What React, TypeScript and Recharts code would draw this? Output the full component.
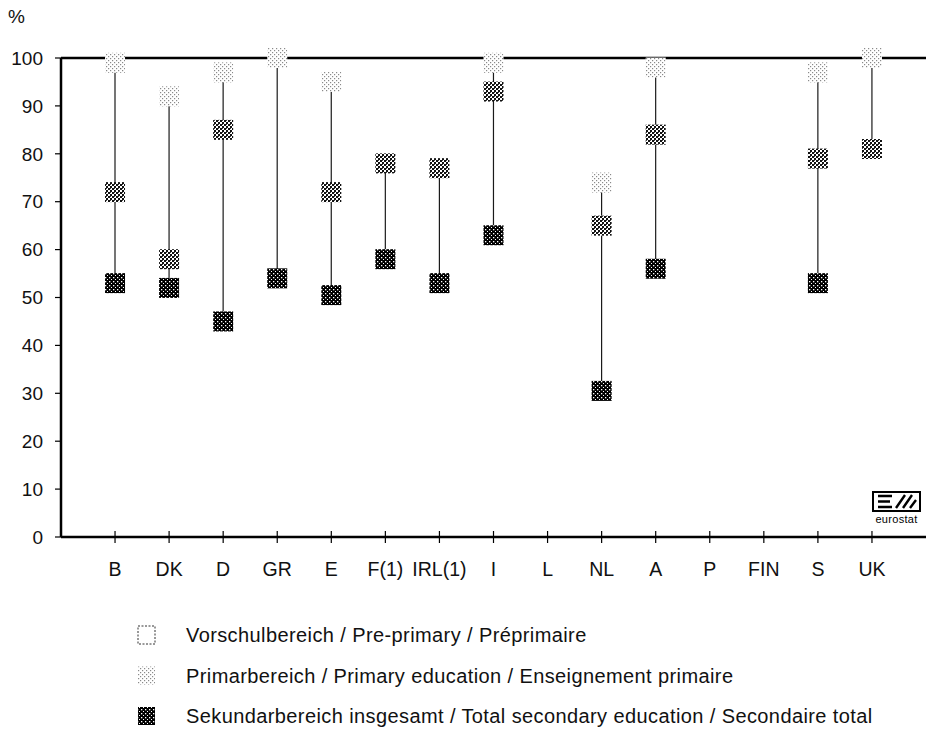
import React from 'react';
import { ComposedChart, Line, Bar, XAxis, YAxis, CartesianGrid } from 'recharts';

const countries = ['B', 'DK', 'D', 'GR', 'E', 'F(1)', 'IRL(1)', 'I', 'L', 'NL', 'A', 'P', 'FIN', 'S', 'UK'];
// top marker (light), middle marker (medium), bottom marker (dark)
const prePrimary = [99, 92, 97, 100, 95, null, null, 99, null, 74, 98, null, null, 97, 100];
const primary = [72, 58, 85, null, 72, 78, 77, 93, null, 65, 84, null, null, 79, 81];
const secondary = [53, 52, 45, 54, 50.5, 58, 53, 63, null, 30.5, 56, null, null, 53, null];
const yTicks = [0, 10, 20, 30, 40, 50, 60, 70, 80, 90, 100];

const legendItems = [
  'Vorschulbereich / Pre-primary / Préprimaire',
  'Primarbereich / Primary education / Enseignement primaire',
  'Sekundarbereich insgesamt / Total secondary education / Secondaire total',
];

const FONT = '"Liberation Sans", Arial, Helvetica, sans-serif';

const data = countries.map((c, i) => {
  const vals = [prePrimary[i], primary[i], secondary[i]].filter((v) => v != null) as number[];
  return {
    country: c,
    pre: prePrimary[i],
    pri: primary[i],
    sec: secondary[i],
    range: vals.length > 1 ? [Math.min(...vals), Math.max(...vals)] : null,
  };
});

// square marker filled with a halftone pattern
const squareDot = (pattern: string) => (props: any) => {
  const { cx, cy, index, value } = props;
  if (value == null || cy == null || isNaN(cy)) return <g key={`e-${pattern}-${index}`} />;
  return (
    <rect key={`${pattern}-${index}`} x={cx - 10} y={cy - 10} width={20} height={20} fill={`url(#${pattern})`} />
  );
};

const StemShape = (props: any) => {
  const { x, y, width, height } = props;
  if (height == null || isNaN(y)) return null;
  const cx = x + width / 2;
  return <line x1={cx} x2={cx} y1={y} y2={y + height} stroke="#1a1a1a" strokeWidth={1.2} />;
};

const CountryTick = (props: any) => {
  const { x, y, payload } = props;
  return (
    <g>
      <line x1={x} x2={x} y1={y - 12} y2={y - 6} stroke="#000" strokeWidth={1.2} />
      <text x={x} y={y + 33} textAnchor="middle" fontSize={19.5} fill="#111" fontFamily={FONT}>
        {payload.value}
      </text>
    </g>
  );
};

const Patterns = () => (
  <svg width={0} height={0} style={{ position: 'absolute' }}>
    <defs>
      <pattern id="pLight" width={4} height={4} patternUnits="userSpaceOnUse">
        <rect width={4} height={4} fill="#fff" />
        <rect x={0} y={0} width={1.2} height={1.2} fill="#8a8a8a" />
        <rect x={2} y={2} width={1.2} height={1.2} fill="#8a8a8a" />
      </pattern>
      <pattern id="pMid" width={4} height={4} patternUnits="userSpaceOnUse">
        <rect width={4} height={4} fill="#fff" />
        <rect x={0} y={0} width={2} height={2} fill="#111" />
        <rect x={2} y={2} width={2} height={2} fill="#111" />
        <rect x={2} y={0} width={1} height={1} fill="#444" />
      </pattern>
      <pattern id="pDark" width={4} height={4} patternUnits="userSpaceOnUse">
        <rect width={4} height={4} fill="#000" />
        <rect x={1} y={1} width={1.3} height={1.3} fill="#fff" />
        <rect x={3} y={3} width={1.3} height={1.3} fill="#fff" />
      </pattern>
    </defs>
  </svg>
);

const legendFills = ['none', 'url(#pLight)', 'url(#pDark)'];

export default function App() {
  return (
    <div style={{ position: 'absolute', left: 0, top: 0, width: 926, height: 733, background: '#fff', fontFamily: FONT }}>
      <Patterns />
      <ComposedChart
        width={926}
        height={600}
        data={data}
        margin={{ top: 58, right: 0, left: 0, bottom: 13 }}
      >
        {/* heavy frame line along the top of the plot (100 %) */}
        <CartesianGrid
          vertical={false}
          horizontalCoordinatesGenerator={({ offset }: any) => [offset.top]}
          stroke="#000"
          strokeWidth={2.5}
        />
        <XAxis
          dataKey="country"
          padding={{ left: 27, right: 27 }}
          height={50}
          interval={0}
          tickSize={6}
          tickMargin={0}
          tickLine={{ stroke: '#000', strokeWidth: 1.2 }}
          axisLine={{ stroke: '#000', strokeWidth: 2.5 }}
          tick={<CountryTick />}
        />
        <YAxis
          width={61}
          domain={[0, 100]}
          ticks={yTicks}
          interval={0}
          tickSize={6}
          tickMargin={12}
          tickLine={{ stroke: '#000', strokeWidth: 1.2 }}
          axisLine={{ stroke: '#000', strokeWidth: 2.5 }}
          tick={{ fontSize: 19, fill: '#111', fontFamily: FONT }}
        />
        <Bar dataKey="range" barSize={2} shape={<StemShape />} isAnimationActive={false} />
        <Line dataKey="sec" stroke="none" dot={squareDot('pDark')} activeDot={false} isAnimationActive={false} />
        <Line dataKey="pri" stroke="none" dot={squareDot('pMid')} activeDot={false} isAnimationActive={false} />
        <Line dataKey="pre" stroke="none" dot={squareDot('pLight')} activeDot={false} isAnimationActive={false} />
      </ComposedChart>

      <div style={{ position: 'absolute', left: 8, top: 6, fontSize: 19, color: '#111' }}>%</div>

      {/* eurostat logo */}
      <svg width={60} height={40} style={{ position: 'absolute', left: 868, top: 489 }}>
        <rect x={5} y={3} width={47} height={19} fill="#fff" stroke="#000" strokeWidth={2} />
        <path d="M10 7 H24 M10 12.5 H22 M10 18 H24" stroke="#000" strokeWidth={2.4} fill="none" />
        <path d="M28 19 L37 6 M35 19 L44 6 M42 19 L48 11" stroke="#000" strokeWidth={2.4} fill="none" />
        <text x={28.5} y={33.5} textAnchor="middle" fontSize={11} fill="#000" fontFamily={FONT} letterSpacing={0.3}>
          eurostat
        </text>
      </svg>

      {/* legend */}
      <svg width={926} height={133} style={{ position: 'absolute', left: 0, top: 600 }}>
        {legendItems.map((label, i) => {
          const cy = 35 + i * 40.5;
          return (
            <g key={label}>
              <rect
                x={138}
                y={cy - 9}
                width={17}
                height={18}
                fill={legendFills[i] === 'none' ? '#fff' : legendFills[i]}
                stroke={i === 0 ? '#333' : 'none'}
                strokeDasharray={i === 0 ? '2 1.5' : undefined}
                strokeWidth={1}
              />
              <text x={186} y={cy + 7} fontSize={20} letterSpacing={0.4} fill="#111" fontFamily={FONT}>
                {label}
              </text>
            </g>
          );
        })}
      </svg>
    </div>
  );
}
